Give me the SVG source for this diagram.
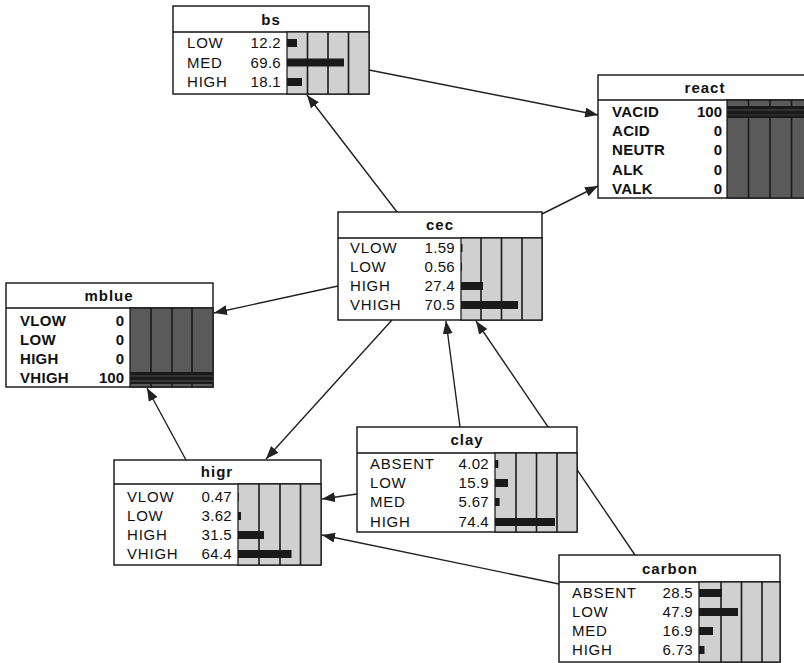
<svg xmlns="http://www.w3.org/2000/svg" width="804" height="663" viewBox="0 0 804 663">
<style>
  .box{fill:#fff;stroke:#111;stroke-width:1.4}
  .sep{stroke:#111;stroke-width:1.4}
  .area{fill:#d0d0d0;stroke:#111;stroke-width:1.2}
  .areaE{fill:#5a5a5a;stroke:#111;stroke-width:1.2}
  .grid{stroke:#1a1a1a;stroke-width:1.6}
  .bar{fill:#1a1a1a}
  .title{font-family:"Liberation Sans",Arial,sans-serif;font-weight:bold;font-size:15px;letter-spacing:1px;fill:#111;text-anchor:middle}
  .lab{font-family:"Liberation Sans",Arial,sans-serif;font-size:15px;letter-spacing:0.8px;fill:#111}
  .num{font-family:"Liberation Sans",Arial,sans-serif;font-size:15px;letter-spacing:0.3px;fill:#111;text-anchor:end}
  .numE{font-family:"Liberation Sans",Arial,sans-serif;font-size:15px;font-weight:bold;fill:#111;text-anchor:end}
  .labE{font-family:"Liberation Sans",Arial,sans-serif;font-size:15px;font-weight:bold;letter-spacing:0.3px;fill:#111}
  .edge{stroke:#222;stroke-width:1.4;fill:none;marker-end:url(#ah)}
</style>
<defs>
  <marker id="ah" markerUnits="userSpaceOnUse" markerWidth="14" markerHeight="10" refX="13" refY="5" orient="auto">
    <path d="M0,0 L13,5 L0,10 Z" fill="#222"/>
  </marker>
</defs>
<rect width="804" height="663" fill="#fff"/>

<g id="connectors">
  <line class="edge" x1="369" y1="70" x2="598" y2="115"/>
  <line class="edge" x1="397" y1="212" x2="307" y2="95"/>
  <line class="edge" x1="542" y1="214" x2="598" y2="186"/>
  <line class="edge" x1="338" y1="286" x2="214" y2="313"/>
  <line class="edge" x1="392" y1="320" x2="266" y2="459"/>
  <line class="edge" x1="460" y1="427" x2="446" y2="321"/>
  <line class="edge" x1="635" y1="555" x2="476" y2="321"/>
  <line class="edge" x1="357" y1="494" x2="322" y2="499"/>
  <line class="edge" x1="559" y1="584" x2="322" y2="535"/>
  <line class="edge" x1="186" y1="460" x2="147" y2="388"/>
</g>

<g id="node-bs">
  <rect class="box" x="173" y="6" width="196" height="88"/>
  <line class="sep" x1="173" y1="32" x2="369" y2="32"/>
  <rect class="area" x="287" y="32" width="82" height="62"/>
  <line class="grid" x1="307.5" y1="32" x2="307.5" y2="94"/>
  <line class="grid" x1="328" y1="32" x2="328" y2="94"/>
  <line class="grid" x1="348.5" y1="32" x2="348.5" y2="94"/>
  <rect class="bar" x="287" y="39" width="10" height="8"/>
  <rect class="bar" x="287" y="58.5" width="57" height="8"/>
  <rect class="bar" x="287" y="78" width="15" height="8"/>
  <text class="title" x="271" y="25">bs</text>
  <text class="lab" x="187" y="48">LOW</text><text class="num" x="281" y="48">12.2</text>
  <text class="lab" x="187" y="67.5">MED</text><text class="num" x="281" y="67.5">69.6</text>
  <text class="lab" x="187" y="87">HIGH</text><text class="num" x="281" y="87">18.1</text>
</g>

<g id="node-react">
  <rect class="box" x="598" y="75" width="215" height="123"/>
  <line class="sep" x1="598" y1="100" x2="813" y2="100"/>
  <rect class="areaE" x="727" y="100" width="86" height="98"/>
  <line class="grid" x1="748.5" y1="100" x2="748.5" y2="198"/>
  <line class="grid" x1="770" y1="100" x2="770" y2="198"/>
  <line class="grid" x1="791.5" y1="100" x2="791.5" y2="198"/>
  <rect class="bar" x="727" y="106" width="86" height="12" fill="#111"/>
  <line x1="727" y1="110" x2="813" y2="110" stroke="#555" stroke-width="0.8"/>
  <line x1="727" y1="115" x2="813" y2="115" stroke="#444" stroke-width="0.8"/>
  <text class="title" x="705" y="93">react</text>
  <text class="labE" x="612" y="117">VACID</text><text class="numE" x="722" y="117">100</text>
  <text class="labE" x="612" y="136.2">ACID</text><text class="numE" x="722" y="136.2">0</text>
  <text class="labE" x="612" y="155.4">NEUTR</text><text class="numE" x="722" y="155.4">0</text>
  <text class="labE" x="612" y="174.6">ALK</text><text class="numE" x="722" y="174.6">0</text>
  <text class="labE" x="612" y="193.8">VALK</text><text class="numE" x="722" y="193.8">0</text>
</g>

<g id="node-cec">
  <rect class="box" x="338" y="212" width="204" height="108"/>
  <line class="sep" x1="338" y1="238" x2="542" y2="238"/>
  <rect class="area" x="461" y="238" width="81" height="82"/>
  <line class="grid" x1="481" y1="238" x2="481" y2="320"/>
  <line class="grid" x1="501.5" y1="238" x2="501.5" y2="320"/>
  <line class="grid" x1="522" y1="238" x2="522" y2="320"/>
  <rect class="bar" x="461" y="244" width="1.5" height="8"/>
  <rect class="bar" x="461" y="263" width="1" height="8"/>
  <rect class="bar" x="461" y="282" width="22" height="8"/>
  <rect class="bar" x="461" y="301" width="57" height="8"/>
  <text class="title" x="440" y="230">cec</text>
  <text class="lab" x="350" y="253">VLOW</text><text class="num" x="455" y="253">1.59</text>
  <text class="lab" x="350" y="272">LOW</text><text class="num" x="455" y="272">0.56</text>
  <text class="lab" x="350" y="291">HIGH</text><text class="num" x="455" y="291">27.4</text>
  <text class="lab" x="350" y="310">VHIGH</text><text class="num" x="455" y="310">70.5</text>
</g>

<g id="node-mblue">
  <rect class="box" x="6" y="283" width="207" height="104"/>
  <line class="sep" x1="6" y1="308" x2="213" y2="308"/>
  <rect class="areaE" x="130" y="308" width="83" height="79"/>
  <line class="grid" x1="151" y1="308" x2="151" y2="387"/>
  <line class="grid" x1="172" y1="308" x2="172" y2="387"/>
  <line class="grid" x1="192" y1="308" x2="192" y2="387"/>
  <rect class="bar" x="130" y="372" width="83" height="12" fill="#111"/>
  <line x1="130" y1="376" x2="213" y2="376" stroke="#555" stroke-width="0.8"/>
  <line x1="130" y1="381" x2="213" y2="381" stroke="#666" stroke-width="0.8"/>
  <text class="title" x="109" y="301">mblue</text>
  <text class="labE" x="20" y="326">VLOW</text><text class="numE" x="124" y="326">0</text>
  <text class="labE" x="20" y="345">LOW</text><text class="numE" x="124" y="345">0</text>
  <text class="labE" x="20" y="364">HIGH</text><text class="numE" x="124" y="364">0</text>
  <text class="labE" x="20" y="383">VHIGH</text><text class="numE" x="124" y="383">100</text>
</g>

<g id="node-higr">
  <rect class="box" x="114" y="460" width="207" height="105"/>
  <line class="sep" x1="114" y1="484" x2="321" y2="484"/>
  <rect class="area" x="238" y="484" width="83" height="81"/>
  <line class="grid" x1="259" y1="484" x2="259" y2="565"/>
  <line class="grid" x1="280" y1="484" x2="280" y2="565"/>
  <line class="grid" x1="300.5" y1="484" x2="300.5" y2="565"/>
  <rect class="bar" x="238" y="493" width="0.8" height="8"/>
  <rect class="bar" x="238" y="512" width="3" height="8"/>
  <rect class="bar" x="238" y="531" width="26" height="8"/>
  <rect class="bar" x="238" y="550" width="53.5" height="8"/>
  <text class="title" x="217" y="477">higr</text>
  <text class="lab" x="127" y="502">VLOW</text><text class="num" x="232" y="502">0.47</text>
  <text class="lab" x="127" y="521">LOW</text><text class="num" x="232" y="521">3.62</text>
  <text class="lab" x="127" y="540">HIGH</text><text class="num" x="232" y="540">31.5</text>
  <text class="lab" x="127" y="559">VHIGH</text><text class="num" x="232" y="559">64.4</text>
</g>

<g id="node-clay">
  <rect class="box" x="357" y="427" width="220" height="105"/>
  <line class="sep" x1="357" y1="453" x2="577" y2="453"/>
  <rect class="area" x="495" y="453" width="82" height="79"/>
  <line class="grid" x1="516" y1="453" x2="516" y2="532"/>
  <line class="grid" x1="536.5" y1="453" x2="536.5" y2="532"/>
  <line class="grid" x1="557" y1="453" x2="557" y2="532"/>
  <rect class="bar" x="495" y="460" width="3.3" height="8"/>
  <rect class="bar" x="495" y="479" width="13" height="8"/>
  <rect class="bar" x="495" y="498" width="4.6" height="8"/>
  <rect class="bar" x="495" y="518" width="60" height="8"/>
  <text class="title" x="467" y="445">clay</text>
  <text class="lab" x="370" y="469">ABSENT</text><text class="num" x="489" y="469">4.02</text>
  <text class="lab" x="370" y="488">LOW</text><text class="num" x="489" y="488">15.9</text>
  <text class="lab" x="370" y="507">MED</text><text class="num" x="489" y="507">5.67</text>
  <text class="lab" x="370" y="527">HIGH</text><text class="num" x="489" y="527">74.4</text>
</g>

<g id="node-carbon">
  <rect class="box" x="559" y="555" width="221" height="107"/>
  <line class="sep" x1="559" y1="582" x2="780" y2="582"/>
  <rect class="area" x="699" y="582" width="81" height="80"/>
  <line class="grid" x1="721" y1="582" x2="721" y2="662"/>
  <line class="grid" x1="741.5" y1="582" x2="741.5" y2="662"/>
  <line class="grid" x1="762" y1="582" x2="762" y2="662"/>
  <rect class="bar" x="699" y="589" width="23" height="8"/>
  <rect class="bar" x="699" y="608" width="39" height="8"/>
  <rect class="bar" x="699" y="627" width="14" height="8"/>
  <rect class="bar" x="699" y="646" width="5.5" height="8"/>
  <text class="title" x="670" y="574">carbon</text>
  <text class="lab" x="572" y="598">ABSENT</text><text class="num" x="693" y="598">28.5</text>
  <text class="lab" x="572" y="617">LOW</text><text class="num" x="693" y="617">47.9</text>
  <text class="lab" x="572" y="636">MED</text><text class="num" x="693" y="636">16.9</text>
  <text class="lab" x="572" y="655">HIGH</text><text class="num" x="693" y="655">6.73</text>
</g>
</svg>
